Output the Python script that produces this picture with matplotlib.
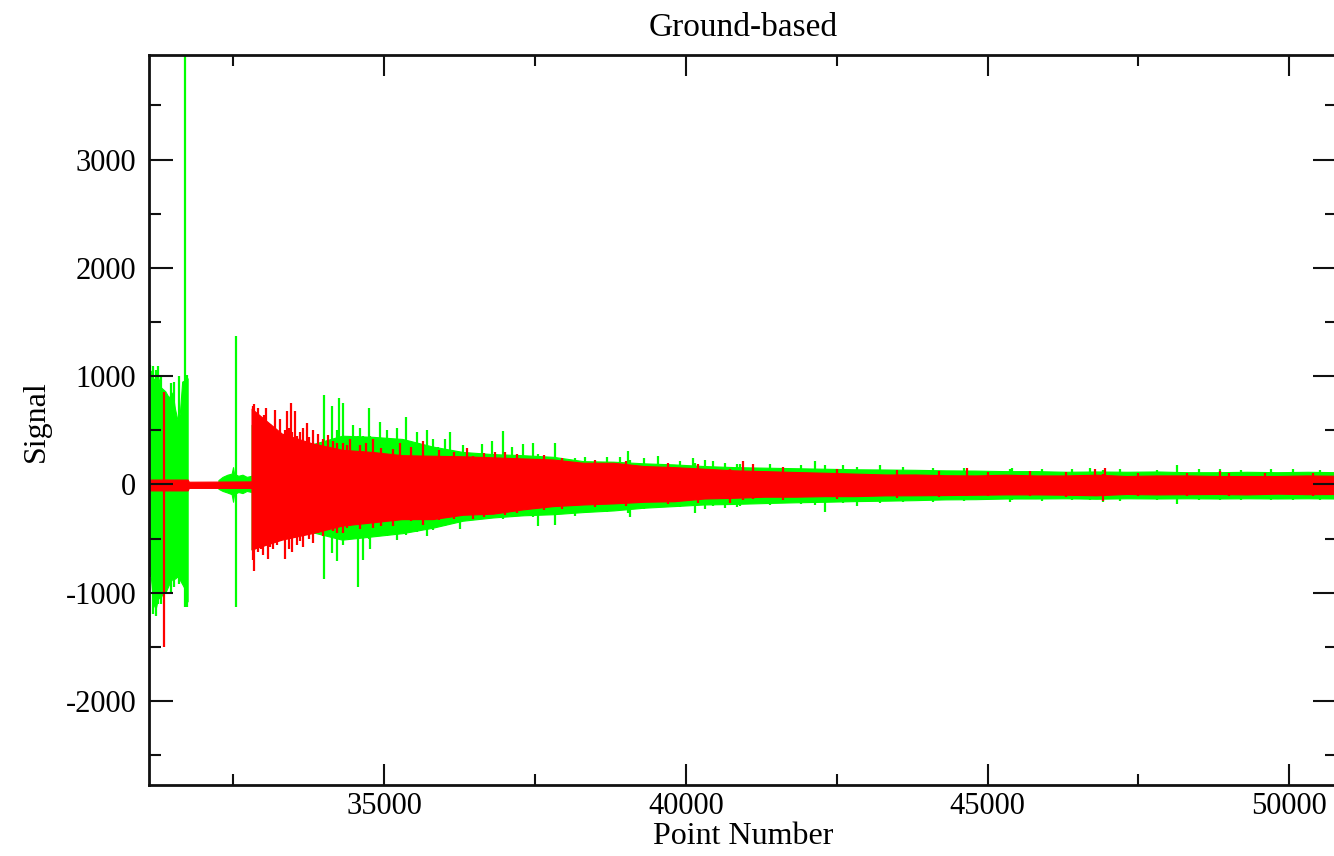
import matplotlib
matplotlib.use("Agg")
import matplotlib.pyplot as plt
from matplotlib.ticker import MultipleLocator

plt.rcParams['font.family'] = ['Liberation Serif', 'DejaVu Serif']
plt.rcParams['axes.unicode_minus'] = False

GREEN = '#00ff00'
RED = '#ff0000'

# ---- main decaying section: envelope of each trace (point number, upper, lower) ----
env_x = [32800, 33300, 33800, 34300, 34800, 35300, 35800, 36300, 36800, 37300,
         37800, 38300, 38800, 39300, 39800, 40300, 40800, 41300, 41800, 42300,
         42800, 43300, 43800, 44300, 44800, 45300, 45800, 46300, 46800, 47300,
         47800, 48300, 48800, 49300, 49800, 50300, 50800]

red_up = [700, 470, 380, 320, 300, 270, 265, 260, 250, 240,
          230, 200, 200, 170, 160, 145, 130, 123, 115, 108,
          100, 92, 92, 85, 83, 90, 83, 83, 90, 78,
          83, 83, 78, 78, 78, 83, 80]
red_lo = [-600, -510, -450, -380, -350, -320, -320, -280, -270, -230,
          -200, -185, -175, -160, -155, -130, -123, -113, -113, -108,
          -108, -101, -100, -98, -95, -92, -92, -95, -100, -88,
          -92, -90, -88, -92, -85, -90, -88]

grn_up = [550, 450, 370, 450, 440, 420, 350, 300, 280, 270,
          255, 215, 210, 195, 185, 170, 160, 155, 150, 145,
          140, 138, 135, 130, 128, 123, 123, 117, 120, 117,
          120, 113, 113, 117, 113, 117, 113]
grn_lo = [-600, -500, -440, -510, -480, -450, -400, -335, -305, -285,
          -275, -255, -240, -215, -200, -185, -180, -172, -165, -160,
          -154, -150, -145, -138, -136, -130, -130, -128, -132, -128,
          -130, -128, -130, -128, -130, -128, -130]

# ---- early part: strong green burst, quiet stretches ----
g1_x = [31100, 31130, 31170, 31210, 31250, 31290, 31330, 31370, 31410,
        31450, 31490, 31530, 31570, 31610, 31650, 31690, 31740]
g1_up = [1000, 1050, 980, 960, 1000, 900, 880, 860, 820,
         800, 850, 700, 600, 650, 950, 960, 980]
g1_lo = [-700, -850, -1100, -1150, -1050, -1050, -1000, -1000, -950,
         -900, -870, -870, -850, -880, -920, -960, -1080]

g2_x = [32250, 32320, 32400, 32470, 32493, 32510, 32580, 32650, 32720, 32800]
g2_up = [40, 70, 90, 100, 160, 100, 80, 90, 70, 80]
g2_lo = [-40, -60, -75, -90, -160, -90, -70, -80, -60, -70]

r0_x = [31100, 31740, 31760, 32800]
r0_up = [45, 45, 25, 28]
r0_lo = [-55, -55, -32, -32]

# ---- individual spikes (point number, top, bottom) ----
grn_spk_x = [31115, 31160, 31215, 31250, 31300, 31470, 31520, 31600, 31697, 31730,
             32543, 34002, 34134, 34217, 34250, 34317, 34483, 34565, 34598,
             34648, 34748, 34764, 34930, 35046, 35212, 35361, 35543, 35709, 35809,
             35892, 36008, 36091, 36257, 36306, 36621, 36787, 36969, 37119, 37301,
             37467, 37550, 37832, 38163, 38329, 38694, 38900, 39042, 39075, 39300,
             39539, 39900, 40120, 40153, 40318, 40451, 40650, 40849, 40900, 41400,
             41900, 42142, 42308, 42600, 42839, 43220, 43600, 44100, 44600, 45376,
             45409, 45900, 46400, 46702, 46918, 47200, 47800, 48144, 48500, 48857,
             49200, 49700, 50068, 50500]
grn_spk_top = [1107, 1090, 1060, 1090, 1000, 940, 950, 1000, 4200, 1010,
               1370, 830, 720, 500, 800, 755, 550, 450, 520,
               450, 710, 450, 580, 500, 525, 620, 480, 505, 420,
               350, 415, 480, 300, 360, 370, 400, 490, 350, 370,
               385, 280, 385, 240, 250, 255, 250, 305, 230, 240,
               260, 220, 240, 200, 230, 212, 200, 190, 190, 185,
               180, 212, 180, 175, 160, 180, 160, 155, 150, 140,
               155, 145, 140, 155, 130, 140, 135, 175, 140, 140,
               135, 140, 140, 135]
grn_spk_bot = [-850, -1200, -1215, -1100, -1100, -1000, -950, -920, -1130, -1135,
               -1135, -875, -630, -710, -500, -560, -500, -950, -450,
               -700, -500, -600, -480, -480, -510, -470, -440, -480, -420,
               -385, -380, -350, -415, -330, -300, -310, -320, -300, -290,
               -300, -385, -370, -295, -260, -250, -240, -260, -305, -230,
               -220, -210, -200, -260, -230, -200, -215, -210, -200, -190,
               -185, -190, -250, -170, -200, -170, -165, -160, -155, -160,
               -140, -150, -145, -140, -165, -150, -140, -185, -145, -140,
               -140, -140, -140, -140]

red_spk_x = [31349, 32820, 32841, 32870, 32907, 32950, 32990, 33010, 33040, 33073,
             33100, 33156, 33189, 33222, 33270, 33355, 33388, 33420, 33454, 33471,
             33521, 33554, 33600, 33653, 33720, 33750, 33819, 33900, 33985, 34068,
             34150, 34217, 34317, 34380, 34433, 34598, 34700, 34814, 34950, 35146,
             35262, 35450, 35643, 35900, 36150, 36373, 36472, 36650, 36837, 37000,
             37200, 37650, 37950, 38500, 39000, 39700, 40200, 40733, 40949, 41115,
             41600, 42500, 43500, 44200, 44662, 45000, 45700, 46300, 46785, 46918,
             46951, 47500, 48300, 48857, 49000, 49600, 50400]
red_spk_top = [850, 720, 740, 650, 710, 600, 560, 640, 710, 520,
               560, 480, 690, 450, 600, 500, 675, 520, 755, 480,
               675, 450, 480, 525, 570, 440, 500, 470, 420, 460,
               400, 380, 380, 360, 415, 360, 380, 415, 340, 330,
               380, 350, 400, 320, 300, 340, 260, 290, 300, 300,
               280, 270, 240, 230, 220, 200, 185, 140, 212, 190,
               160, 140, 130, 125, 155, 115, 120, 115, 140, 100,
               155, 110, 110, 120, 105, 110, 110]
red_spk_bot = [-1500, -700, -800, -560, -620, -600, -650, -520, -560, -690,
               -580, -600, -500, -560, -520, -690, -450, -600, -500, -620,
               -450, -560, -520, -580, -470, -500, -540, -450, -480, -420,
               -430, -450, -450, -400, -380, -410, -360, -400, -380, -380,
               -330, -340, -370, -330, -320, -280, -320, -300, -250, -280,
               -260, -240, -230, -210, -200, -185, -170, -170, -140, -130,
               -140, -130, -125, -115, -110, -110, -110, -115, -110, -155,
               -100, -105, -110, -95, -105, -100, -110]

fig = plt.figure(figsize=(13.34, 8.56), dpi=100)
ax = fig.add_axes([149 / 1334, 71 / 856, 1188 / 1334, 730 / 856])

# green trace first, red drawn over it
ax.fill_between(g1_x, g1_lo, g1_up, color=GREEN, lw=0.8, zorder=1)
ax.fill_between(g2_x, g2_lo, g2_up, color=GREEN, lw=0.8, zorder=1)
ax.fill_between(env_x, grn_lo, grn_up, color=GREEN, lw=0.8, zorder=1)
ax.vlines(grn_spk_x, grn_spk_bot, grn_spk_top, color=GREEN, lw=1.6, zorder=2)

ax.fill_between(r0_x, r0_lo, r0_up, color=RED, lw=0.8, zorder=3)
ax.fill_between(env_x, red_lo, red_up, color=RED, lw=0.8, zorder=3)
ax.vlines(red_spk_x, red_spk_bot, red_spk_top, color=RED, lw=1.6, zorder=4)

ax.set_xlim(31100, 50790)
ax.set_ylim(-2775, 3965)

ax.xaxis.set_major_locator(MultipleLocator(5000))
ax.xaxis.set_minor_locator(MultipleLocator(2500))
ax.yaxis.set_major_locator(MultipleLocator(1000))
ax.yaxis.set_minor_locator(MultipleLocator(500))

ax.tick_params(axis='both', which='both', direction='in', top=True, right=True,
               width=1.5, colors='#111111', labelsize=22, labelcolor='black')
ax.tick_params(axis='x', which='major', length=15, pad=5)
ax.tick_params(axis='x', which='minor', length=8)
ax.tick_params(axis='y', which='major', length=17, pad=9)
ax.tick_params(axis='y', which='minor', length=8.6)

# ticks and frame sit above the traces
ax.xaxis.set_zorder(6)
ax.yaxis.set_zorder(6)
for s in ax.spines.values():
    s.set_linewidth(2)
    s.set_color('#111111')
    s.set_zorder(6)

ax.set_title('Ground-based', fontsize=24, pad=14)
ax.set_xlabel('Point Number', fontsize=23)
ax.set_ylabel('Signal', fontsize=23)
ax.xaxis.set_label_coords(0.5, -0.05)
ax.yaxis.set_label_coords(-0.083, 0.498)

fig.savefig('out.png', dpi=100)
